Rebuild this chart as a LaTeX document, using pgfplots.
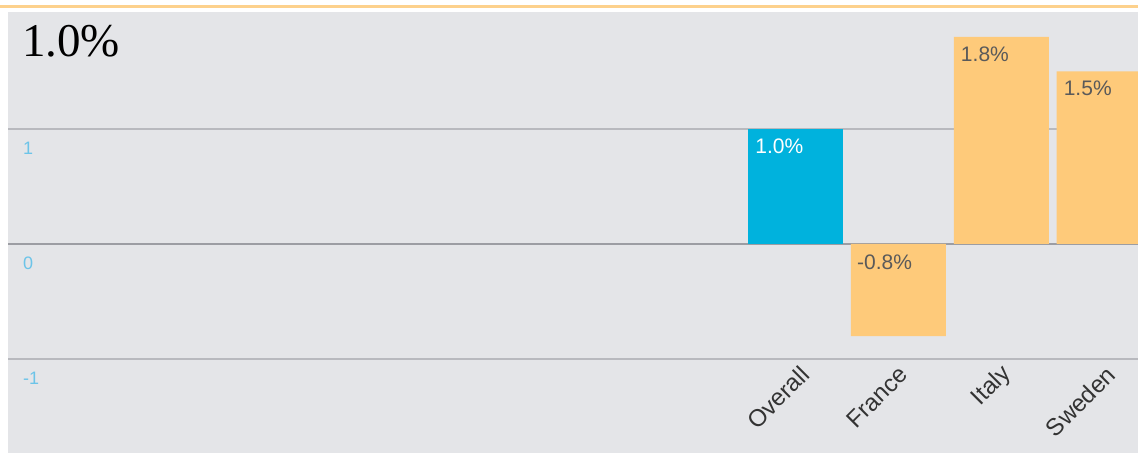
\documentclass[border=0pt]{standalone}
\usepackage{pgfplots}
\pgfplotsset{compat=1.18}
\usepackage{fontspec}
\setmainfont{Liberation Sans}
\newfontfamily\serif{Liberation Serif}
\definecolor{bggray}{HTML}{E4E5E8}
\definecolor{gridc}{HTML}{B8B9BE}
\definecolor{zeroc}{HTML}{9C9DA3}
\definecolor{barblue}{HTML}{00B2DD}
\definecolor{barorange}{HTML}{FECA7A}
\definecolor{tickblue}{HTML}{6CC4E8}
\definecolor{lbldark}{HTML}{5A5A5A}
\definecolor{catc}{HTML}{333333}
\definecolor{topline}{HTML}{FDD18C}
\begin{document}
\begin{tikzpicture}
\useasboundingbox (0,0) rectangle (1138bp,453bp);
\fill[white] (0,0) rectangle (1138bp,453bp);
\draw[topline, line width=3bp] (0,446bp) -- (1138bp,446bp);
\begin{axis}[
  at={(8bp,0)}, anchor=south west,
  scale only axis, width=1130bp, height=441bp,
  xmin=-7.66, xmax=3.33, ymin=-1.817, ymax=2.017,
  axis line style={draw=none},
  axis background/.style={fill=bggray},
  xtick=\empty,
  ytick={-1,0,1},
  major tick length=0pt,
  ymajorgrids,
  grid style={gridc, line width=1.5bp},
  /pgf/number format/assume math mode=true,
  yticklabel style={anchor=north west, inner sep=0pt, xshift=15bp, yshift=-13bp, text=tickblue, font=\fontsize{18bp}{20bp}\selectfont},
  ybar, bar width=0.924, bar shift=0pt,
  clip=true,
]
\draw[zeroc, line width=1.5bp] ({rel axis cs:0,0}|-{axis cs:0,0}) -- ({rel axis cs:1,0}|-{axis cs:0,0});
\addplot[fill=barblue, draw=none] coordinates {(0,1.0)};
\addplot[fill=barorange, draw=none] coordinates {(1,-0.8) (2,1.8) (3,1.5)};
\begin{scope}[every node/.style={inner sep=0pt, anchor=north west, font=\fontsize{21bp}{24bp}\selectfont}]
\node[text=white] at (axis cs:-0.394,0.92) {1.0\%};
\node[text=lbldark] at (axis cs:0.596,-0.09) {-0.8\%};
\node[text=lbldark] at (axis cs:1.606,1.72) {1.8\%};
\node[text=lbldark] at (axis cs:2.606,1.42) {1.5\%};
\end{scope}
\begin{scope}[every node/.style={rotate=45, anchor=east, inner sep=0pt, text=catc, font=\fontsize{24bp}{26bp}\selectfont}]
\node at (axis cs:0.09,-1.10) {Overall};
\node at (axis cs:1.05,-1.10) {France};
\node at (axis cs:2.06,-1.10) {Italy};
\node at (axis cs:3.07,-1.10) {Sweden};
\end{scope}
\end{axis}
\node[anchor=base west, inner sep=0pt, font=\serif\fontsize{47bp}{50bp}\selectfont] at (22bp,396bp) {1.0\%};
\end{tikzpicture}
\end{document}
